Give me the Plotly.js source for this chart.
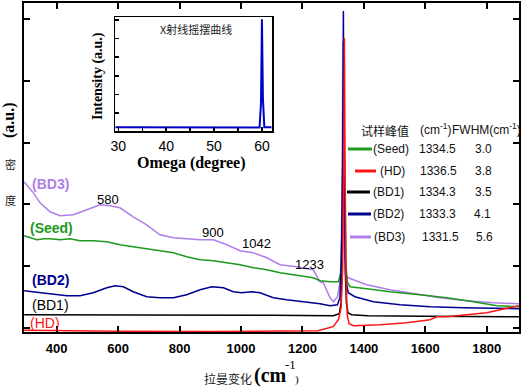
<!DOCTYPE html>
<html><head><meta charset="utf-8">
<script src="https://cdn.plot.ly/plotly-3.0.1.min.js"></script>
<style>html,body{margin:0;padding:0;background:#fff}#c{width:524px;height:388px}</style>
</head><body><div id="c"></div>
<script>
// ---- data ----
const bd3_x = [294,324,346,378,411,454,498,541,574,606,649,693,736,780,823,867,910,954,997,1040,1084,1127,1181,1235,1257,1268,1290,1301,1314,1320,1324,1327,1329.5,1331.5,1333.5,1336,1339,1343,1349,1366,1409,1485,1561,1648,1735,1822,1905];
const bd3_y = [146,135,125,116,112,113,118,123,122,120,111,103,93,90,89,88,88,83,77,75,70,63,61,58,46,45,30,26,31,41,55,90,170,286,170,90,62,52,50,48,43,38,34,30,27,25,24];
const seed_x = [294,335,360,378,411,443,476,519,563,606,649,693,736,780,823,867,910,954,997,1040,1084,1127,1170,1214,1235,1257,1290,1317,1325,1330,1332.5,1334.5,1336.5,1339,1342,1347,1355,1409,1485,1583,1670,1757,1833,1905];
const seed_y = [92,88,89,89,88,89,87,87,86,83,81,79,77,75,71,68,67,65,63,60,58,55,53,51,50,47,46,46,55,110,180,280,180,100,60,45,41,39,36,33,30,26,22,21];
const bd2_x = [294,346,389,433,476,519,563,590,617,649,693,736,780,823,867,905,943,975,1002,1035,1062,1105,1149,1203,1257,1290,1314,1322,1327,1331,1333.3,1335.5,1339,1343,1349,1371,1431,1518,1616,1724,1833,1905];
const bd2_y = [37,35,33,32,32,35,40,42,41,36,31,30,30,33,38,41,40,36,35,36,35,30,28,26,24,22,23,30,70,170,317,170,70,45,35,31,26,23,21,20,19,19];
const bd1_x = [294,500,800,1100,1300,1320,1326,1330,1332.3,1334.3,1336.3,1339,1343,1348,1360,1413,1600,1800,1905];
const bd1_y = [13,13,13,12.5,12,14,25,80,160,270,160,60,25,15,13,12,11.5,11,11];
const hd_x = [294,400,600,900,1100,1250,1300,1317,1326,1331,1334.5,1336.5,1338.5,1342,1346,1352,1366,1453,1540,1615,1637,1670,1735,1800,1843,1876,1905];
const hd_y = [-2.5,-3,-3.5,-3.8,-3.5,-3,1,8,20,60,170,290,170,50,12,4,2,3,5,8,11,11,13,15,18,20,22];
const omega = [29.4,35,40,45,50,55,59.5,59.8,60.0,60.2,60.5,62];
const xrd = [-0.76,-0.76,-0.76,-0.76,-0.77,-0.77,-0.77,0.5,5.04,0.8,-0.76,-0.76];
const xTicks = [400,600,800,1000,1200,1400,1600,1800];
const insetTicks = [30,40,50,60];
const samples = ['(Seed)','(HD)','(BD1)','(BD2)','(BD3)'];
const peaks = ['1334.5','1336.5','1334.3','1333.3','1331.5'];
const fwhm = ['3.0','3.8','3.5','4.1','5.6'];
const colors = {seed:'#1c9a1c', hd:'#ff1414', bd1:'#000000', bd2:'#000090', bd3:'#b07ee8'};
const legColors = [colors.seed, colors.hd, colors.bd1, colors.bd2, colors.bd3];

// ---- layout helpers ----
const W=524,H=388,L=24,R=5,T=3,B=56, PW=W-L-R, PH=H-T-B;
function px(x){return (x-L)/PW;} function py(y){return (H-B-y)/PH;}
const SANS='Liberation Sans, Arial, sans-serif', SERIF='Liberation Serif, Times New Roman, serif', CJK='Noto Sans CJK SC, sans-serif';
const anns=[];
function ann(text,x,y,font,extra){anns.push(Object.assign({text:text,x:px(x),y:py(y),xref:'paper',yref:'paper',xanchor:'center',yanchor:'middle',showarrow:false,font:font},extra||{}));}

const tr = (x,y,c,w)=>({x:x,y:y,type:'scatter',mode:'lines',line:{color:c,width:w||1.5},hoverinfo:'skip',showlegend:false});
const data=[tr(bd1_x,bd1_y,colors.bd1),tr(bd3_x,bd3_y,colors.bd3),tr(seed_x,seed_y,colors.seed),tr(bd2_x,bd2_y,colors.bd2),tr(hd_x,hd_y,colors.hd),
  Object.assign(tr(omega,xrd,'#0000cc',2),{xaxis:'x2',yaxis:'y2'})];

// curve labels
ann('<b>(BD3)</b>',50,184,{family:SANS,size:14,color:colors.bd3});
ann('<b>(Seed)</b>',51,228,{family:SANS,size:14,color:colors.seed});
ann('<b>(BD2)</b>',50,280,{family:SANS,size:14,color:colors.bd2});
ann('(BD1)',50,305,{family:SANS,size:14,color:'#000'});
ann('(HD)',45,323,{family:SANS,size:14,color:colors.hd});
ann('580',108,199,{family:SANS,size:13,color:'#000'});
ann('900',213,232,{family:SANS,size:13,color:'#000'});
ann('1042',256,243,{family:SANS,size:13,color:'#000'});
ann('1233',309,264,{family:SANS,size:13,color:'#000'});
// axis titles
ann('拉曼变化',228,378,{family:CJK,size:12,color:'#222'});
ann('<b>(cm</b>',270,376,{family:SERIF,size:20,color:'#000'});
ann('-1',290,364,{family:SERIF,size:13,color:'#000'});
ann(')',297,379,{family:SERIF,size:11,color:'#000'});
ann('<b>(a.u.)</b>',9,120,{family:SERIF,size:16,color:'#000'},{textangle:-90});
ann('密',10,164,{family:CJK,size:11,color:'#222'});
ann('度',10,200,{family:CJK,size:11,color:'#222'});
// inset texts
ann('X射线摇摆曲线',196,29,{family:CJK,size:11,color:'#222'});
ann('<b>Intensity (a.u.)</b>',98,76,{family:SERIF,size:14,color:'#000'},{textangle:-90});
ann('<b>Omega (degree)</b>',191,163,{family:SERIF,size:16,color:'#000'});
// legend table
const rowY=[149,171,192,214,237];
const lineX=[[348,372],[355,376],[347,370],[348,371],[350,371]];
const labX=[391,392,388,388,389];
const peakX=[437,438,437,437,440];
const fwX=[483,483,483,482,484];
ann('试样峰值',385,130,{family:CJK,size:12,color:'#111'});
ann('(cm<sup>-1</sup>)',435,129,{family:SANS,size:12,color:'#111'});
ann('FWHM(cm<sup>-1</sup>)',486,129,{family:SANS,size:12,color:'#111'});
const shapes=[];
for(let i=0;i<samples.length;i++){
  ann(samples[i],labX[i],rowY[i],{family:SANS,size:12,color:'#111'});
  ann(peaks[i],peakX[i],rowY[i],{family:SANS,size:12,color:'#111'});
  ann(fwhm[i],fwX[i],rowY[i],{family:SANS,size:12,color:'#111'});
  shapes.push({type:'line',xref:'paper',yref:'paper',x0:px(lineX[i][0]),x1:px(lineX[i][1]),y0:py(rowY[i]),y1:py(rowY[i]),line:{color:legColors[i],width:3}});
}

const layout={width:W,height:H,margin:{l:L,r:R,t:T,b:B},paper_bgcolor:'#fff',plot_bgcolor:'#fff',showlegend:false,
  xaxis:{range:[293.5,1905],tickvals:xTicks,ticks:'inside',ticklen:6,tickwidth:2,tickcolor:'#000',showline:true,linewidth:2,linecolor:'#000',mirror:'ticks',showgrid:false,zeroline:false,
    tickfont:{family:SANS,size:13,color:'#000',weight:'bold'},ticklabelstandoff:3},
  yaxis:{range:[-4.3,325],tick0:0,dtick:61.7,ticks:'inside',ticklen:6,tickwidth:2,tickcolor:'#000',showline:true,linewidth:2,linecolor:'#000',mirror:'ticks',showgrid:false,zeroline:false,showticklabels:false},
  xaxis2:{domain:[px(115),px(272)],anchor:'y2',range:[29.3,62.1],tickvals:insetTicks,ticks:'inside',ticklen:4,tickwidth:1.5,tickcolor:'#000',showline:true,linewidth:1.5,linecolor:'#000',mirror:true,showgrid:false,zeroline:false,
    minor:{dtick:5,tick0:0,ticks:'inside',ticklen:3,tickwidth:1.5,tickcolor:'#000'},
    tickfont:{family:'Liberation Sans Narrow, Arial Narrow, sans-serif',size:14,color:'#000'},ticklabelstandoff:2},
  yaxis2:{domain:[py(131),py(17)],anchor:'x2',range:[-0.96,5.16],tickvals:[0,1,2,3,4,5],ticks:'inside',ticklen:4,tickwidth:1.5,tickcolor:'#000',showline:true,linewidth:1.5,linecolor:'#000',mirror:true,showgrid:false,zeroline:false,showticklabels:false},
  annotations:anns,shapes:shapes};
Plotly.newPlot('c',data,layout,{staticPlot:true,displayModeBar:false});
</script></body></html>
